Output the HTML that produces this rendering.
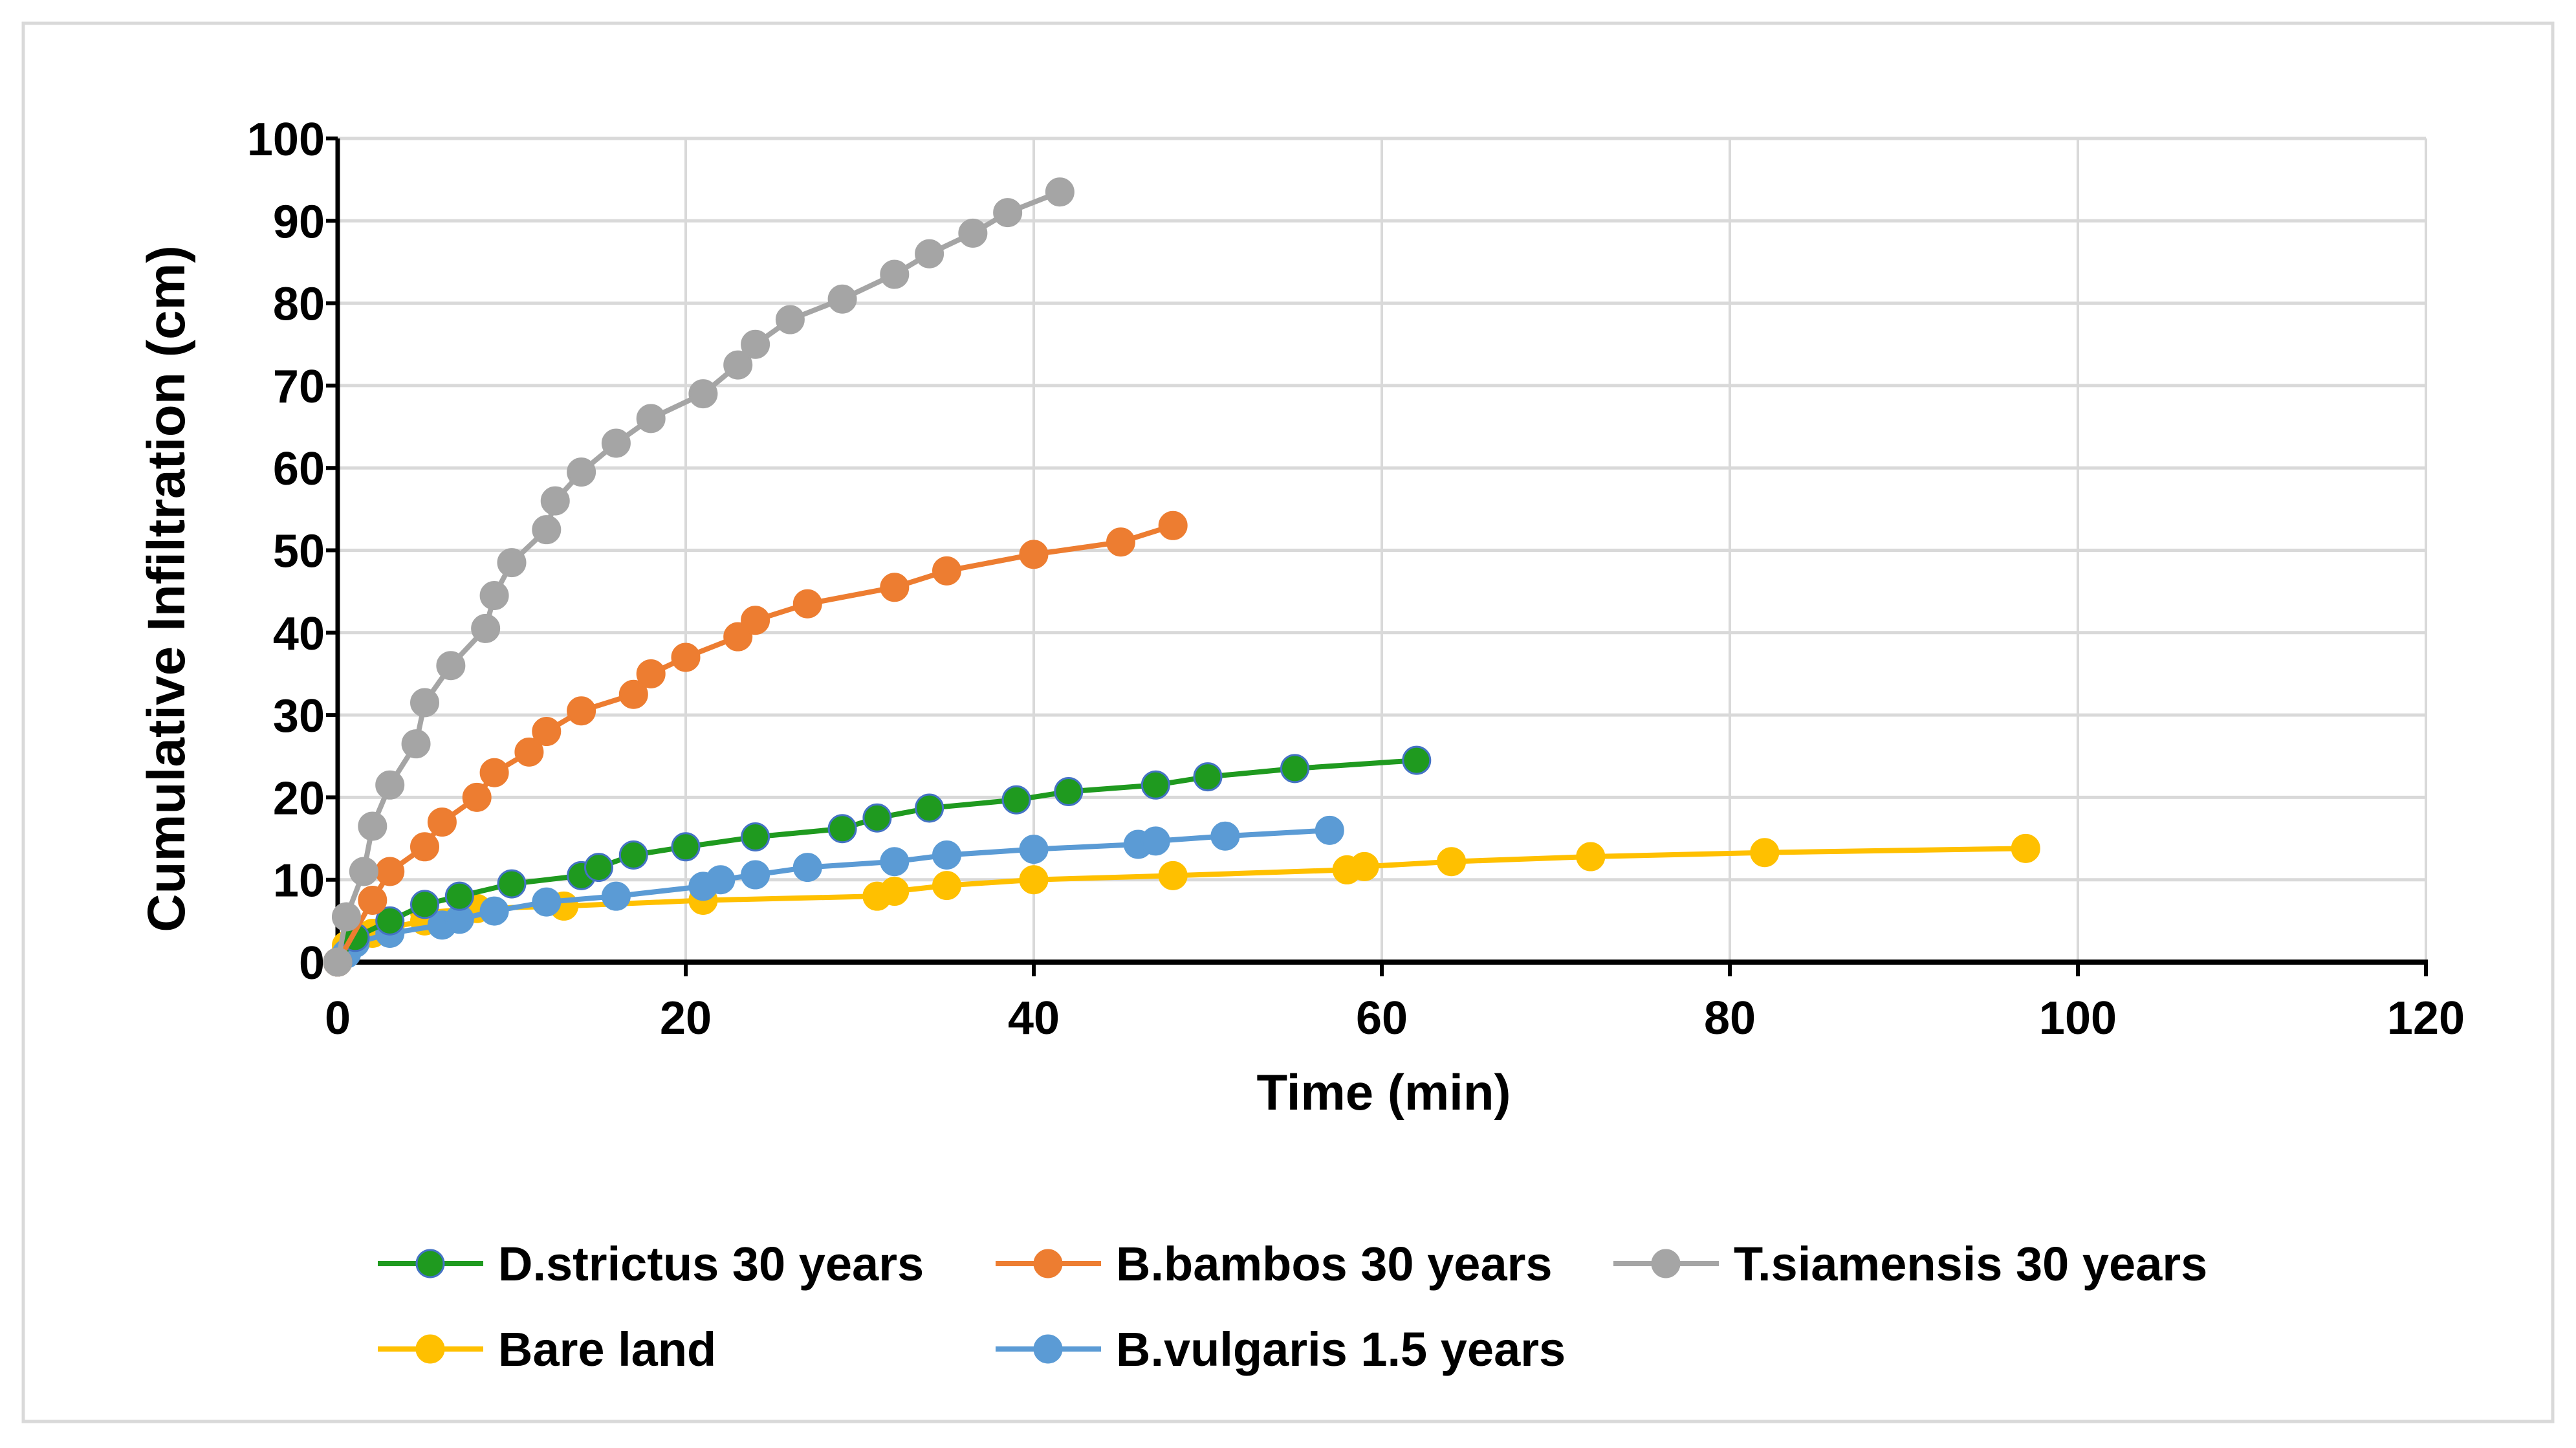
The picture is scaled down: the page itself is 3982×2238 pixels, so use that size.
<!DOCTYPE html>
<html><head><meta charset="utf-8"><style>
html,body{margin:0;padding:0;background:#fff;}
svg{display:block;font-family:"Liberation Sans",Arial,sans-serif;font-weight:bold;}
</style></head><body>
<svg id="chart" width="3982" height="2238" viewBox="0 0 3982 2238" xmlns="http://www.w3.org/2000/svg">
<rect x="36" y="36" width="3910" height="2161" fill="#fff" stroke="#d9d9d9" stroke-width="5"/>
<g id="grid"></g><g id="axes"></g><g id="series"></g><g id="legend"></g>
<text x="2139" y="1715" font-size="78" text-anchor="middle">Time (min)</text>
<text transform="translate(285,910) rotate(-90)" font-size="82" text-anchor="middle">Cumulative Infiltration  (cm)</text>
</svg>
<script>
const xTicks=[0,20,40,60,80,100,120];
const yTicks=[0,10,20,30,40,50,60,70,80,90,100];
const seriesNames=["D.strictus 30 years","B.bambos 30 years","T.siamensis 30 years","Bare land","B.vulgaris 1.5 years"];
const dsX=[0,1,3,5,7,10,14,15,17,20,24,29,31,34,39,42,47,50,55,62];
const dsY=[0,3,5,7,8,9.5,10.5,11.5,13,14,15.2,16.2,17.5,18.7,19.7,20.7,21.5,22.5,23.5,24.5];
const bbX=[0,2,3,5,6,8,9,11,12,14,17,18,20,23,24,27,32,35,40,45,48];
const bbY=[0,7.5,11,14,17,20,23,25.5,28,30.5,32.5,35,37,39.5,41.5,43.5,45.5,47.5,49.5,51,53];
const tsX=[0,0.5,1.5,2,3,4.5,5,6.5,8.5,9,10,12,12.5,14,16,18,21,23,24,26,29,32,34,36.5,38.5,41.5];
const tsY=[0,5.5,11,16.5,21.5,26.5,31.5,36,40.5,44.5,48.5,52.5,56,59.5,63,66,69,72.5,75,78,80.5,83.5,86,88.5,91,93.5];
const blX=[0,0.5,1,2,3,5,5,8,13,21,31,32,35,40,48,58,59,64,72,82,97];
const blY=[0,2,3,3.5,4.2,5,6,6.5,6.8,7.5,8,8.6,9.3,10,10.5,11.2,11.6,12.2,12.8,13.3,13.8];
const bvX=[0,0.5,1,3,6,7,9,12,16,21,22,24,27,32,35,40,46,47,51,57];
const bvY=[0,1,2.3,3.5,4.5,5.2,6.2,7.3,8,9.2,10,10.6,11.5,12.2,13,13.7,14.3,14.7,15.3,16];

const NS="http://www.w3.org/2000/svg";
const X0=522,X1=3750,Y0=1487,Y1=214;
const sx=v=>X0+(v-0)/(120-0)*(X1-X0);
const sy=v=>Y0-(v-0)/(100-0)*(Y0-Y1);
function mk(tag,attrs,parent){const e=document.createElementNS(NS,tag);for(const k in attrs)e.setAttribute(k,attrs[k]);parent.appendChild(e);return e;}
const grid=document.getElementById('grid'),axes=document.getElementById('axes'),ser=document.getElementById('series'),leg=document.getElementById('legend');
yTicks.forEach(v=>{if(v===0)return;const l=mk('line',{x1:X0,x2:X1,y1:sy(v),y2:sy(v),stroke:'#d9d9d9','stroke-width':5},grid);

});
xTicks.forEach(v=>{if(v===0)return;const l=mk('line',{x1:sx(v),x2:sx(v),y1:Y1,y2:Y0,stroke:'#d9d9d9','stroke-width':4},grid);

});
const ya=mk('line',{x1:X0,x2:X0,y1:Y1,y2:Y0,stroke:'#000','stroke-width':7},axes);


const xa=mk('line',{x1:X0-3,x2:X1+3,y1:Y0,y2:Y0,stroke:'#000','stroke-width':8},axes);


yTicks.forEach(v=>{mk('line',{x1:X0-18,x2:X0,y1:sy(v),y2:sy(v),stroke:'#000','stroke-width':6},axes);
const t=mk('text',{x:X0-20,y:sy(v)+26,'font-size':72,'text-anchor':'end'},axes);t.textContent=v;

});
xTicks.forEach(v=>{mk('line',{x1:sx(v),x2:sx(v),y1:Y0,y2:Y0+22,stroke:'#000','stroke-width':6},axes);
const t=mk('text',{x:sx(v),y:1598,'font-size':72,'text-anchor':'middle'},axes);t.textContent=v;

});
const sets=[[dsX,dsY,'#1f9a1f','#4472c4','d-strictus'],[bbX,bbY,'#ed7d31','#ed7d31','b-bambos'],[tsX,tsY,'#a5a5a5','#a5a5a5','t-siamensis'],[blX,blY,'#ffc000','#ffc000','bare-land'],[bvX,bvY,'#5b9bd5','#5b9bd5','b-vulgaris']];
[3,4,0,1,2].forEach(i=>{const [xs,ys,c,oc,n]=sets[i];const g=mk('g',{},ser);


const pl=mk('polyline',{points:xs.map((x,j)=>sx(x)+','+sy(ys[j])).join(' '),fill:'none',stroke:c,'stroke-width':8,'stroke-linejoin':'round'},g);


xs.forEach((x,j)=>{const m=mk('circle',{cx:sx(x),cy:sy(ys[j]),r:21,fill:c,stroke:oc,'stroke-width':3},g);

});});
const legPos=[[584,1953],[1539,1953],[2494,1953],[584,2085],[1539,2085]];
sets.forEach((s,i)=>{const [lx,ly]=legPos[i];const g=mk('g',{},leg);


mk('line',{x1:lx,x2:lx+163,y1:ly,y2:ly,stroke:s[2],'stroke-width':8},g);
mk('circle',{cx:lx+81,cy:ly,r:21,fill:s[2],stroke:s[3],'stroke-width':3},g);
const t=mk('text',{x:lx+186,y:ly+26,'font-size':74},g);t.textContent=seriesNames[i];

});
</script>
</body></html>
